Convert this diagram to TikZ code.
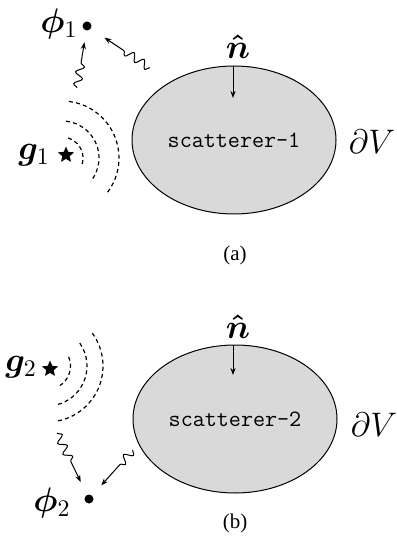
\RequirePackage{fix-cm}
\documentclass[tikz,border=0pt]{standalone}
\usepackage{bm}
\usepackage[no-math]{fontspec}
\setmainfont{Liberation Serif}
\usetikzlibrary{shapes.geometric,decorations.pathmorphing,arrows.meta}
\begin{document}
\begin{tikzpicture}[x=0.5pt,y=-0.5pt,
  scat/.style={ellipse, draw=black, line width=0.5pt, fill=black!15, inner sep=0pt,
    minimum width=102pt, minimum height=74pt, font=\fontsize{11.7}{13}\ttfamily},
  mlabel/.style={inner sep=0pt, font=\fontsize{17}{20}\selectfont},
  dotn/.style={circle, fill=black, inner sep=0pt, minimum size=4.5pt},
  starn/.style={star, star points=5, star point ratio=2.2, fill=black, inner sep=0pt, minimum size=8.5pt},
  wavy/.style={decorate, decoration={snake, segment length=6pt, amplitude=2pt, post length=#1},
    line width=0.5pt, -{Stealth[length=3.5pt,width=2.6pt]}},
  wavefront/.style={dash pattern=on 2pt off 1.6pt, line width=0.6pt},
  normarrow/.style={line width=0.5pt, -{Stealth[length=3.5pt,width=2.6pt]}},
  capt/.style={inner sep=0pt, font=\fontsize{10.5}{12}\selectfont}]
\useasboundingbox (0,0) rectangle (396,544);

% ---------- panel (a) ----------
\node[scat] (s1) at (234,140) {scatterer-1};
\node[mlabel] (n1) at (238,47) {$\bm{\hat{n}}$};
\coordinate (n1a) at (233,66);
\coordinate (n1b) at (233,98);
\draw[normarrow] (n1a) -- (n1b);
\node[mlabel] (dV1) at (372,142) {$\partial V$};
\node[dotn] (p1) at (87,26) {};
\node[mlabel] (phi1) at (59,24) {$\bm\phi_1$};
\node[mlabel] (g1) at (34,155) {$\bm g_1$};
\node[starn] (st1) at (66,155) {};
\coordinate (c1) at (62,158);
\draw[wavefront] (c1) ++(-73:21) arc[start angle=-73, end angle=22, radius=21];
\draw[wavefront] (c1) ++(-84:37) arc[start angle=-84, end angle=39, radius=37];
\draw[wavefront] (c1) ++(-83:57) arc[start angle=-83, end angle=37, radius=57];
\coordinate (w1) at (77,88);
\coordinate (w2) at (150,68);
\draw[wavy=13.5pt, shorten >=5.75pt] (w1) -- (p1);
\draw[wavy=18pt, shorten >=8pt] (w2) -- (p1);
\node[capt] (ca) at (235,255) {(a)};

% ---------- panel (b) ----------
\node[scat] (s2) at (235,419) {scatterer-2};
\node[mlabel] (n2) at (238,327) {$\bm{\hat{n}}$};
\coordinate (n2a) at (233,345);
\coordinate (n2b) at (233,375);
\draw[normarrow] (n2a) -- (n2b);
\node[mlabel] (dV2) at (374,425) {$\partial V$};
\node[dotn] (p2) at (89,499) {};
\node[mlabel] (phi2) at (52,503) {$\bm\phi_2$};
\node[mlabel] (g2) at (21,367) {$\bm g_2$};
\node[starn] (st2) at (50,369) {};
\coordinate (c2) at (47,366);
\draw[wavefront] (c2) ++(-23:23.5) arc[start angle=-23, end angle=56, radius=23.5];
\draw[wavefront] (c2) ++(-35:40) arc[start angle=-35, end angle=76, radius=40];
\draw[wavefront] (c2) ++(-36:56) arc[start angle=-36, end angle=79, radius=56];
\coordinate (w3) at (57,433);
\coordinate (w4) at (133,450);
\draw[wavy=18pt, shorten >=7pt] (w3) -- (p2);
\draw[wavy=17.75pt, shorten >=6.75pt] (w4) -- (p2);
\node[capt] (cb) at (235,523) {(b)};
\end{tikzpicture}
\end{document}
